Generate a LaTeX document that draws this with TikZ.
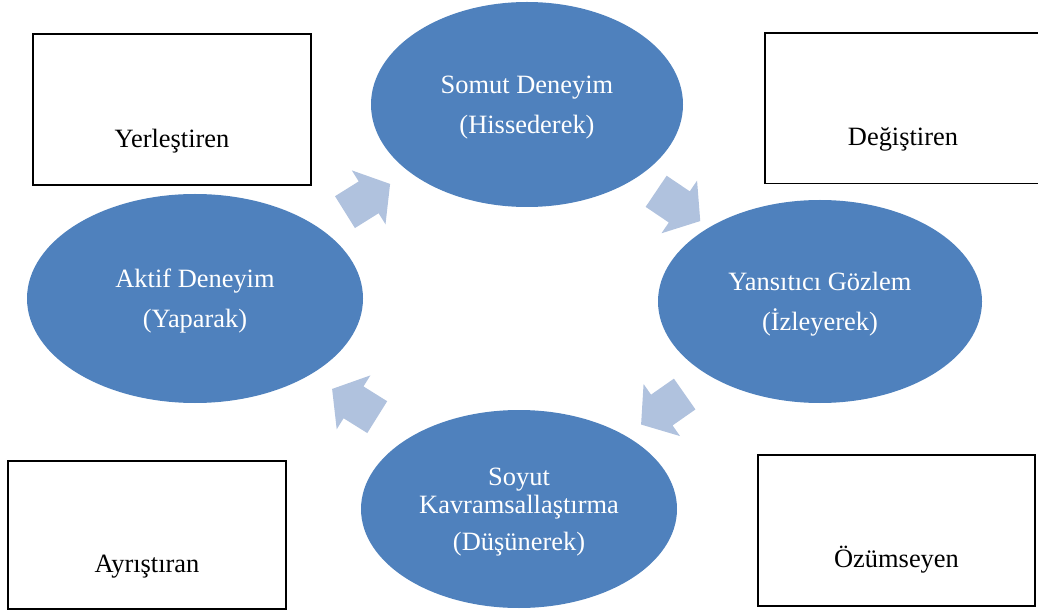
\documentclass[tikz,border=0pt]{standalone}
\usepackage{fontspec}
\setmainfont{Liberation Serif}
\usetikzlibrary{shapes.geometric,shapes.arrows}
\definecolor{elmavi}{RGB}{79,129,189}
\definecolor{okmavi}{RGB}{176,194,222}

\begin{document}
\begin{tikzpicture}[
 evre/.style={ellipse,fill=elmavi,text=white,align=center,inner sep=0pt,text depth=0pt,font=\fontsize{18.8}{20}\selectfont},
 ok/.style={single arrow,fill=okmavi,inner xsep=0pt,inner ysep=0.4625cm,minimum height=1.33cm,minimum width=1.575cm,single arrow head extend=0.325cm,single arrow tip angle=103},
 kutu/.style={draw,line width=1.1pt},
 yazi/.style={font=\fontsize{18.8}{20}\selectfont}]
\useasboundingbox (0,0) rectangle (25.95,15.35);
\draw[kutu] (0.825,10.725) rectangle (7.775,14.5) node[yazi,pos=.5,yshift=-0.78cm] (yerlestiren) {Yerleştiren};
\draw[kutu] (19.125,10.7625) rectangle (26.025,14.525) node[yazi,pos=.5,yshift=-0.78cm] (degistiren) {Değiştiren};
\draw[kutu] (0.2,0.125) rectangle (7.15,3.825) node[yazi,pos=.5,yshift=-0.8cm] (ayristiran) {Ayrıştıran};
\draw[kutu] (18.95,0.2) rectangle (25.875,3.975) node[yazi,pos=.5,yshift=-0.74cm] (ozumseyen) {Özümseyen};
\node[evre,minimum width=7.8cm,minimum height=5.125cm] (somut) at (13.175,12.7375) {Somut Deneyim\\[8.5pt](Hissederek)};
\node[evre,minimum width=8.1cm,minimum height=5.075cm] (yansitici) at (20.5,7.8125) {Yansıtıcı Gözlem\\[8.5pt](İzleyerek)};
\node[evre,minimum width=7.9cm,minimum height=4.95cm] (soyut) at (12.975,2.625) {Soyut\\Kavramsallaştırma\\[6.3pt](Düşünerek)};
\node[evre,minimum width=8.4cm,minimum height=5.225cm] (aktif) at (4.875,7.8875) {Aktif Deneyim\\[8.5pt](Yaparak)};
\node[ok,rotate=32] (ok1) at (9.03,10.3) {};
\node[ok,rotate=-34] (ok2) at (16.8,10.3) {};
\node[ok,rotate=215] (ok3) at (16.725,5.225) {};
\node[ok,rotate=148] (ok4) at (9.025,5.175) {};
\end{tikzpicture}
\end{document}
